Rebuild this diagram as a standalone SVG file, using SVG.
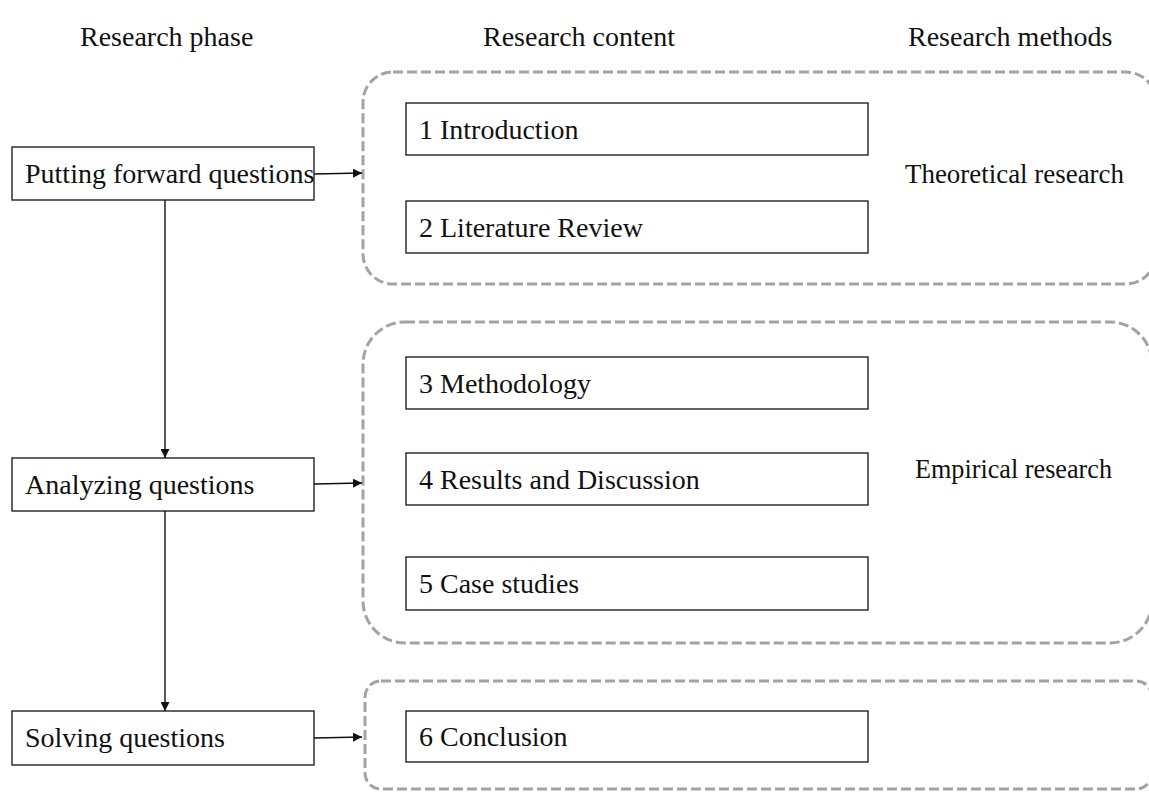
<svg xmlns="http://www.w3.org/2000/svg" width="1149" height="792" viewBox="0 0 1149 792">
  <style>
    .t { font-family: "Liberation Serif", "Times New Roman", serif; font-size: 28px; fill: #111; }
    .box { fill: #fff; stroke: #222; stroke-width: 1.4; }
    .group { fill: none; stroke: #a3a3a3; stroke-width: 3; stroke-dasharray: 10 4; }
    .link { fill: none; stroke: #111; stroke-width: 1.4; }
  </style>
  <defs>
    <marker id="arrow" viewBox="0 0 10 10" refX="10" refY="5" markerWidth="9" markerHeight="9" markerUnits="userSpaceOnUse" orient="auto">
      <path d="M0,0 L10,5 L0,10 Z" fill="#111"/>
    </marker>
  </defs>

  <rect width="1149" height="792" fill="#fff"/>

  <!-- column headings -->
  <g id="headings">
    <text class="t" x="80" y="46">Research phase</text>
    <text class="t" x="483" y="46">Research content</text>
    <text class="t" x="908" y="46">Research methods</text>
  </g>

  <!-- dashed method groups -->
  <g id="group-theoretical">
    <rect class="group" x="363" y="72" width="793" height="212" rx="30" ry="30"/>
    <text class="t" x="905" y="183" textLength="219" lengthAdjust="spacingAndGlyphs">Theoretical research</text>
  </g>
  <g id="group-empirical">
    <rect class="group" x="363" y="322" width="789" height="321" rx="42" ry="42"/>
    <text class="t" x="915" y="478" textLength="197" lengthAdjust="spacingAndGlyphs">Empirical research</text>
  </g>
  <g id="group-conclusion">
    <rect class="group" x="365" y="681" width="787" height="108" rx="16" ry="16"/>
  </g>

  <!-- research phases -->
  <g id="phase-putting">
    <rect class="box" x="12" y="147" width="302" height="53"/>
    <text class="t" x="25" y="183">Putting forward questions</text>
  </g>
  <g id="phase-analyzing">
    <rect class="box" x="12" y="458" width="302" height="53"/>
    <text class="t" x="25" y="494">Analyzing questions</text>
  </g>
  <g id="phase-solving">
    <rect class="box" x="12" y="711" width="302" height="54"/>
    <text class="t" x="25" y="747">Solving questions</text>
  </g>

  <!-- research content -->
  <g id="content-1">
    <rect class="box" x="406" y="103" width="462" height="52"/>
    <text class="t" x="419" y="139">1 Introduction</text>
  </g>
  <g id="content-2">
    <rect class="box" x="406" y="201" width="462" height="52"/>
    <text class="t" x="419" y="237">2 Literature Review</text>
  </g>
  <g id="content-3">
    <rect class="box" x="406" y="357" width="462" height="52"/>
    <text class="t" x="419" y="393">3 Methodology</text>
  </g>
  <g id="content-4">
    <rect class="box" x="406" y="453" width="462" height="52"/>
    <text class="t" x="419" y="489">4 Results and Discussion</text>
  </g>
  <g id="content-5">
    <rect class="box" x="406" y="557" width="462" height="53"/>
    <text class="t" x="419" y="593">5 Case studies</text>
  </g>
  <g id="content-6">
    <rect class="box" x="406" y="711" width="462" height="51"/>
    <text class="t" x="419" y="746">6 Conclusion</text>
  </g>

  <!-- connectors -->
  <g id="connectors">
    <line class="link" x1="314" y1="174" x2="362" y2="173" marker-end="url(#arrow)"/>
    <line class="link" x1="314" y1="484" x2="362" y2="483" marker-end="url(#arrow)"/>
    <line class="link" x1="314" y1="738" x2="362" y2="737" marker-end="url(#arrow)"/>
    <line class="link" x1="165" y1="200" x2="165" y2="458" marker-end="url(#arrow)"/>
    <line class="link" x1="165" y1="511" x2="165" y2="711" marker-end="url(#arrow)"/>
  </g>
</svg>
